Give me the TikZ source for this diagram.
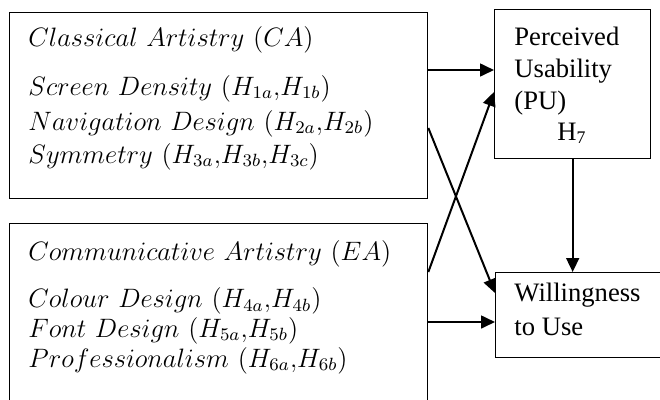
\documentclass[tikz,border=0pt]{standalone}
\usepackage{amsmath,amssymb}
\usepackage{fontspec}
\newfontfamily\tnr{Liberation Serif}
\usetikzlibrary{arrows.meta}

\begin{document}
\begin{tikzpicture}[x=0.451pt,y=-0.451pt,
    box/.style={draw, line width=0.6pt, inner sep=0pt, anchor=north west},
    lbl/.style={anchor=base west, inner sep=0pt, font=\fontsize{12}{14.4}\selectfont},
    rlbl/.style={anchor=base west, inner sep=0pt, font=\tnr\fontsize{12}{14.4}\selectfont},
    arr/.style={-{Triangle[length=6.3pt,width=5.8pt]}, line width=0.9pt}]
        \useasboundingbox (0,0) rectangle (660,399);
        \clip (0,0) rectangle (660,399);

        % Draw the boxes
        \node[box, minimum width=418*0.451pt, minimum height=186*0.451pt] (ca) at (9,12) {};
        \node[box, minimum width=418*0.451pt, minimum height=207*0.451pt] (ea) at (9,223) {};
        \node[box, minimum width=156*0.451pt, minimum height=149*0.451pt] (pu) at (494,9) {};
        \node[box, minimum width=185*0.451pt, minimum height=85*0.451pt] (wtu) at (495,272) {};

        % Classical artistry
        \node[lbl] (ca0) at (28,46) {$Classical\ Artistry\ (CA)$};
        \node[lbl] (ca1) at (28,95) {$Screen\ Density\ (H_{1a}{,}H_{1b})$};
        \node[lbl] (ca2) at (28,130) {$Navigation\ Design\ (H_{2a}{,}H_{2b})$};
        \node[lbl] (ca3) at (28,163) {$Symmetry\ (H_{3a}{,}H_{3b}{,}H_{3c})$};

        % Communicative artistry
        \node[lbl] (ea0) at (28,260) {$Communicative\ Artistry\ (EA)$};
        \node[lbl] (ea1) at (28,307) {$Colour\ Design\ (H_{4a}{,}H_{4b})$};
        \node[lbl] (ea2) at (28,337) {$Font\ Design\ (H_{5a}{,}H_{5b})$};
        \node[lbl] (ea3) at (28,367) {$Professionalism\ (H_{6a}{,}H_{6b})$};

        % Outcomes
        \node[rlbl] (pu0) at (514,45) {Perceived};
        \node[rlbl] (pu1) at (514,77) {Usability};
        \node[rlbl] (pu2) at (514,109) {(PU)};
        \node[rlbl] (pu3) at (557,140) {H\textsubscript{7}};
        \node[rlbl] (wtu0) at (514,301) {Willingness};
        \node[rlbl] (wtu1) at (514,335) {to Use};

        % Draw the paths
        \draw[arr] (ca.east |- 0,70) -- (pu.west |- 0,70);
        \draw[arr] (ca.east |- 0,128) -- (wtu.west |- 0,293);
        \draw[arr] (ea.east |- 0,272) -- (pu.west |- 0,92);
        \draw[arr] (ea.east |- 0,322) -- (wtu.west |- 0,322);
        \draw[arr] (pu.south) -- (pu.south |- wtu.north);

    \end{tikzpicture}
\end{document}
